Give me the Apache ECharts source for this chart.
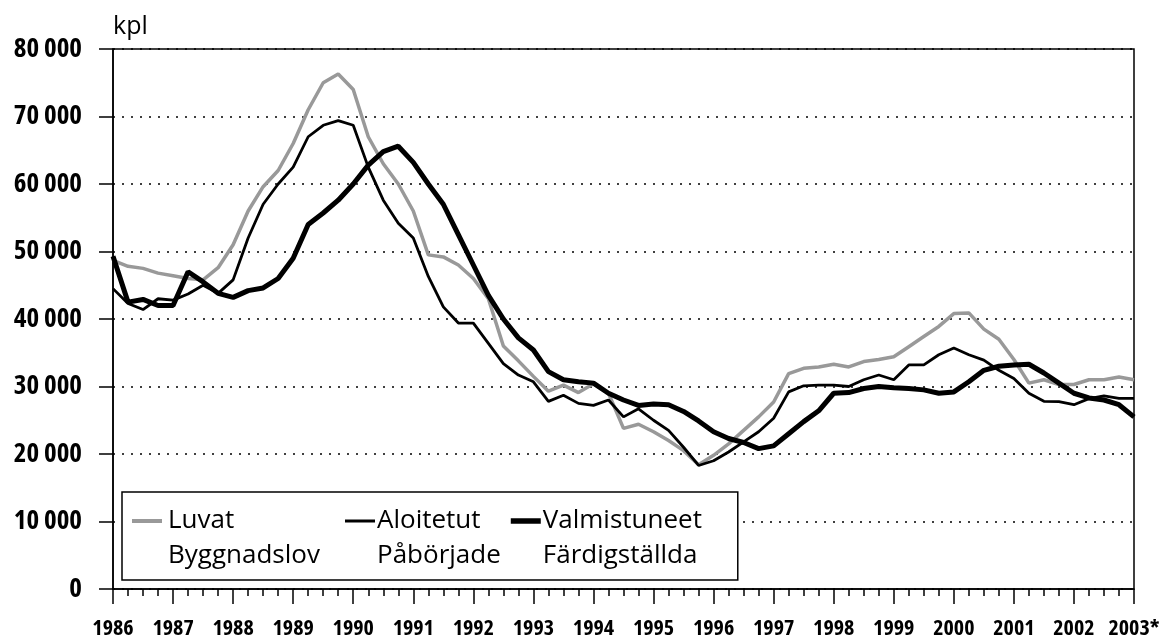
<!DOCTYPE html>
<html><head><meta charset="utf-8">
<script src="https://cdn.jsdelivr.net/npm/echarts@6/dist/echarts.min.js"></script>
<style>html,body{margin:0;padding:0;background:#fff}#c{width:1161px;height:638px}</style>
</head><body><div id="c"></div>
<script>
// Quarterly data, 1986 Q1 ... 2003 Q1
const startYear = 1986;
const xTickLabels = ['1986','1987','1988','1989','1990','1991','1992','1993','1994','1995','1996','1997','1998','1999','2000','2001','2002','2003*'];
const yTickLabels = ['0','10 000','20 000','30 000','40 000','50 000','60 000','70 000','80 000'];
const seriesNames = ['Luvat\nByggnadslov', 'Aloitetut\nPåbörjade', 'Valmistuneet\nFärdigställda'];

const luvat = [
  48700, 47800, 47500, 46800, 46400, 46000, 45800, 47600,
  51000, 56000, 59600, 62000, 66000, 71000, 75000, 76300,
  74000, 67000, 63000, 60000, 56000, 49500, 49200, 48000,
  46000, 43000, 36000, 33800, 31500, 29300, 30200, 29100,
  30400, 29000, 23800, 24400, 23300, 22000, 20500, 18400,
  19800, 21500, 23500, 25500, 27700, 31900, 32700, 32900,
  33300, 32900, 33700, 34000, 34400, 35900, 37400, 38900,
  40800, 40900, 38500, 37000, 34000, 30500, 31000, 30300,
  30300, 31000, 31000, 31400, 31000
];
const aloitetut = [
  44500, 42300, 41400, 43000, 42800, 43700, 45000, 43800,
  45800, 52000, 57000, 60000, 62500, 67000, 68700, 69400,
  68700, 62500, 57600, 54200, 52000, 46300, 41800, 39400,
  39400, 36400, 33400, 31700, 30700, 27800, 28700, 27500,
  27200, 28000, 25500, 26700, 25000, 23500, 21000, 18300,
  19000, 20300, 21800, 23300, 25300, 29200, 30100, 30200,
  30200, 30000, 31000, 31700, 31000, 33200, 33200, 34700,
  35700, 34700, 33900, 32400, 31200, 29000, 27800, 27750,
  27300, 28200, 28600, 28250, 28250
];
const valmistuneet = [
  49300, 42500, 42900, 42000, 42000, 47000, 45500, 43800,
  43200, 44200, 44600, 46000, 49000, 54000, 55700, 57600,
  60000, 62800, 64800, 65600, 63200, 60000, 57000, 52500,
  48000, 43500, 40000, 37200, 35400, 32200, 31000, 30700,
  30500, 29000, 28000, 27200, 27400, 27300, 26300, 24900,
  23300, 22300, 21700, 20800, 21200, 23000, 24800, 26400,
  29000, 29100, 29700, 30000, 29800, 29700, 29500, 29000,
  29200, 30700, 32400, 33000, 33200, 33300, 32000, 30500,
  29000, 28300, 28000, 27300, 25500
];

const FONT = "'Open Sans','DejaVu Sans',sans-serif";
const BOLD_COND = 'bold condensed';
const toPairs = arr => arr.map((v, i) => [startYear + i / 4, v]);

const LH = 35;
const legText = w => ({width: w, fontFamily: FONT, fontWeight: 'normal', fontSize: 26, color: '#000', lineHeight: LH});

const chart = echarts.init(document.getElementById('c'), null, {renderer: 'canvas'});
const option = {
  animation: false,
  backgroundColor: '#fff',
  grid: {left: 113, right: 27, top: 49, bottom: 49, show: true, borderColor: '#000', borderWidth: 1.5,
         containLabel: false, outerBoundsMode: 'none'},
  xAxis: {
    type: 'value', min: 1986, max: 2003, interval: 1,
    axisLine: {show: true, lineStyle: {color: '#000', width: 1.5}},
    axisTick: {show: true, length: 15, lineStyle: {color: '#000', width: 1.5}},
    minorTick: {show: true, splitNumber: 4, length: 7, lineStyle: {color: '#000', width: 1.5}},
    splitLine: {show: false},
    axisLabel: {
      formatter: v => xTickLabels[Math.round(v - startYear)],
      fontFamily: FONT, fontWeight: BOLD_COND, fontSize: 22, color: '#000', margin: 29,
      showMinLabel: true, showMaxLabel: true, hideOverlap: false
    }
  },
  yAxis: {
    type: 'value', min: 0, max: 80000, interval: 10000,
    name: 'kpl', nameLocation: 'end', nameGap: 10,
    nameTextStyle: {align: 'left', verticalAlign: 'bottom', fontFamily: FONT, fontWeight: 'normal', fontSize: 25, color: '#000'},
    axisLine: {show: true, lineStyle: {color: '#000', width: 1.5}},
    axisTick: {show: true, length: 14, lineStyle: {color: '#000', width: 1.5}},
    splitLine: {show: true, lineStyle: {color: '#000', width: 1.5, type: [2, 7]}},
    axisLabel: {
      formatter: v => yTickLabels[Math.round(v / 10000)],
      fontFamily: FONT, fontWeight: BOLD_COND, fontSize: 27, color: '#000', margin: 31
    }
  },
  legend: {
    left: 122, top: 492, orient: 'horizontal', itemGap: 4,
    padding: [16, 10, 11, 4],
    borderColor: '#000', borderWidth: 1.5, backgroundColor: '#fff',
    icon: 'rect', itemWidth: 1, itemHeight: 1,
    itemStyle: {color: 'rgba(0,0,0,0)', borderWidth: 0},
    selectedMode: false,
    data: seriesNames,
    formatter: name => {
      const k = seriesNames.indexOf(name);
      const parts = name.split('\n');
      const gap = k === 0 ? 'g0' : 'g1';
      return '{i' + k + '|}{' + gap + '|}{t' + k + '|' + parts[0] + '}\n{s|}{' + gap + '|}{t' + k + '|' + parts[1] + '}';
    },
    textStyle: {
      fontFamily: FONT, fontWeight: 'normal', fontSize: 26, color: '#000',
      rich: {
        i0: {width: 30, height: 4, backgroundColor: '#999', lineHeight: LH},
        i1: {width: 30, height: 3, backgroundColor: '#000', lineHeight: LH},
        i2: {width: 30, height: 5.5, backgroundColor: '#000', lineHeight: LH},
        s: {width: 30, lineHeight: LH},
        g0: {width: 6, lineHeight: LH},
        g1: {width: 2, lineHeight: LH},
        t0: legText(167),
        t1: legText(122),
        t2: legText(185)
      }
    }
  },
  series: [
    {name: seriesNames[0], type: 'line', data: toPairs(luvat), showSymbol: false, z: 3,
     lineStyle: {color: '#999', width: 3.5}, itemStyle: {color: '#999'}},
    {name: seriesNames[1], type: 'line', data: toPairs(aloitetut), showSymbol: false, z: 4,
     lineStyle: {color: '#000', width: 2.8}, itemStyle: {color: '#000'}},
    {name: seriesNames[2], type: 'line', data: toPairs(valmistuneet), showSymbol: false, z: 5,
     lineStyle: {color: '#000', width: 5}, itemStyle: {color: '#000'}}
  ]
};
chart.setOption(option);
</script>
</body></html>
